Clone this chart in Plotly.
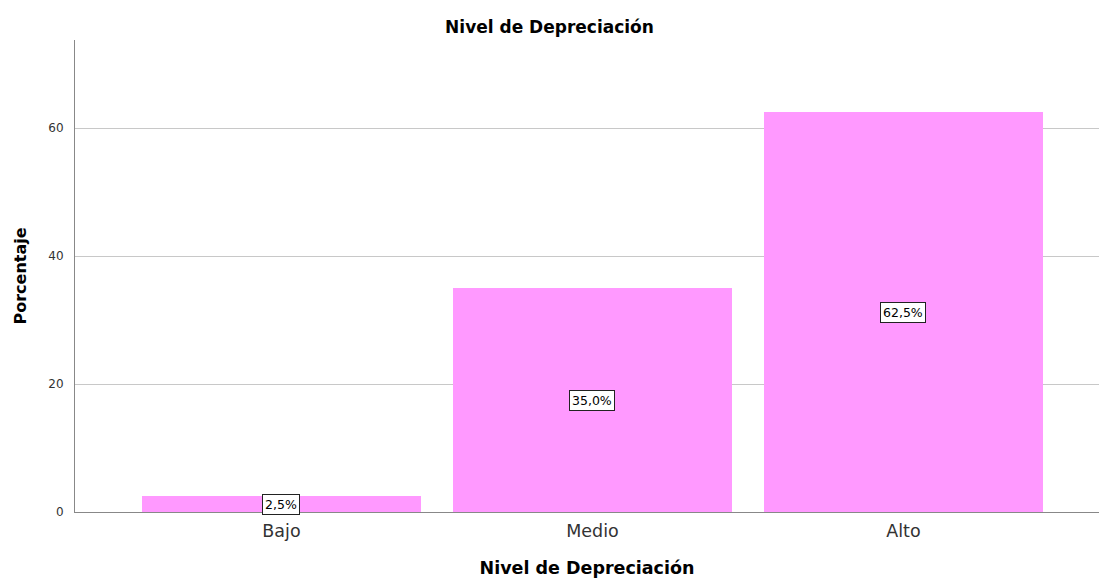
import plotly.graph_objects as go

categories = ["Bajo", "Medio", "Alto"]
percentages = [2.5, 35.0, 62.5]
value_labels = ["2,5%", "35,0%", "62,5%"]
y_ticks = [0, 20, 40, 60]

FONT = "DejaVu Sans, Arial, Liberation Sans"

fig = go.Figure()
fig.add_trace(go.Bar(
    x=categories, y=percentages,
    marker=dict(color="#ff99ff", line=dict(width=0)),
    width=0.897, hoverinfo="skip",
))

for c, v, lab in zip(categories, percentages, value_labels):
    fig.add_annotation(
        x=c, y=v / 2, text=lab, showarrow=False,
        font=dict(family=FONT, size=12.5, color="black"),
        bgcolor="white", bordercolor="#222", borderwidth=1, borderpad=2,
    )

fig.update_layout(
    width=1099, height=578,
    margin=dict(l=75, r=0, t=40, b=66),
    plot_bgcolor="white", paper_bgcolor="white",
    font=dict(family=FONT, color="#222"),
    showlegend=False,
    title=dict(text="<b>Nivel de Depreciación</b>", x=0.5, xanchor="center",
               y=0.953, yanchor="middle", font=dict(size=17, color="black")),
    xaxis=dict(
        range=[-0.664, 2.629], showgrid=False, showline=True,
        linecolor="#888", linewidth=1, ticks="",
        tickfont=dict(size=17.5, color="#333"), ticklabelstandoff=3,
        title=dict(text="<b>Nivel de Depreciación</b>", font=dict(size=17.5, color="black"), standoff=24),
    ),
    yaxis=dict(
        range=[0, 73.75], tickvals=y_ticks, showgrid=True, gridcolor="#c8c8c8",
        showline=True, linecolor="#888", linewidth=1, ticks="", zeroline=False,
        tickfont=dict(size=12, color="#333"), ticklabelstandoff=8,
        title=dict(text="<b>Porcentaje</b>", font=dict(size=16, color="black"), standoff=17),
    ),
    bargap=0,
)

fig.write_html("out.html", config={"displayModeBar": False},
               post_script="document.body.style.margin='0';")
